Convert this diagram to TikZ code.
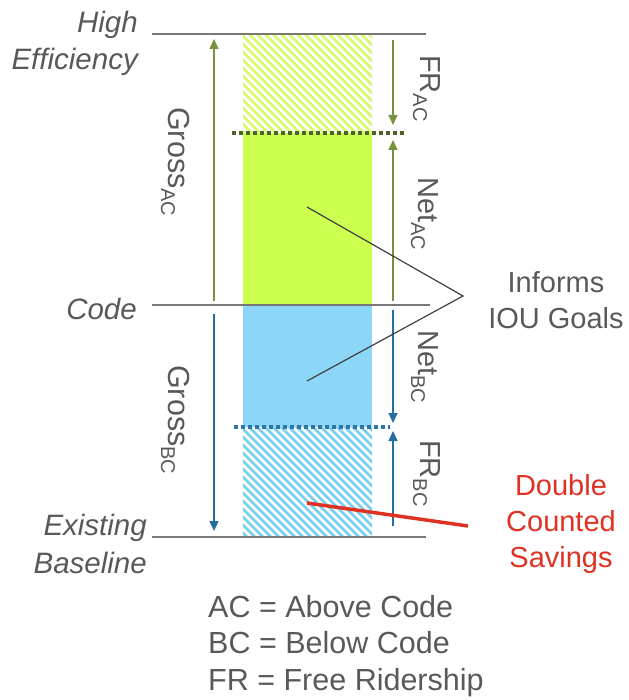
\documentclass[tikz,border=0pt]{standalone}
\usepackage{fontspec}
\setmainfont{Liberation Sans}
\usetikzlibrary{arrows.meta}
\definecolor{txtgray}{RGB}{89,89,89}
\definecolor{linegray}{RGB}{120,120,120}
\definecolor{limefill}{RGB}{204,255,80}
\definecolor{limehatch}{RGB}{214,252,110}
\definecolor{skyfill}{RGB}{140,215,248}
\definecolor{skyhatch}{RGB}{120,206,238}
\definecolor{arrgreen}{RGB}{118,146,60}
\definecolor{arrblue}{RGB}{38,110,160}
\definecolor{dotgreen}{RGB}{79,98,40}
\definecolor{dotblue}{RGB}{46,117,170}
\definecolor{redc}{RGB}{224,50,35}
\definecolor{pointer}{RGB}{64,64,64}
\newcommand\lowsub[1]{\raisebox{-7pt}{\fontsize{20}{20}\selectfont #1}}
\begin{document}
\begin{tikzpicture}[x=1pt,y=-1pt,
  levelline/.style={draw=linegray,line width=1.6pt},
  levellabel/.style={anchor=base east,inner sep=0,text=txtgray,font=\fontsize{29.5}{29.5}\selectfont\itshape},
  rotlabel/.style={rotate=-90,anchor=base west,inner sep=0,text=txtgray,font=\fontsize{29}{29}\selectfont},
  sidetext/.style={align=center,inner sep=0,font=\fontsize{29}{36}\selectfont},
  legendtext/.style={anchor=base west,inner sep=0,text=txtgray,font=\fontsize{30.5}{30.5}\selectfont},
  hatchg/.style={draw=limehatch,line width=2.8pt},
  hatchb/.style={draw=skyhatch,line width=2.8pt},
  garrow/.style={draw=arrgreen,line width=1.3pt,-{Triangle[length=10pt,width=9pt]}},
  barrow/.style={draw=arrblue,line width=1.3pt,-{Triangle[length=10pt,width=9pt]}},
  dotline/.style={line width=3.5pt,dash pattern=on 3.5pt off 3.5pt},
  pointerline/.style={draw=pointer,line width=1.2pt},
  redline/.style={draw=redc,line width=3.5pt}]
\useasboundingbox (0,0) rectangle (628,700);
% filled bars
\fill[limefill] (243,133) rectangle (372,305);
\fill[skyfill] (243,305) rectangle (372,427);
\begin{scope}
  \clip (243,34) rectangle (372,133);
  \foreach \i in {125,133,...,380} \draw[hatchg] (\i,30) -- ++(110,110);
\end{scope}
\begin{scope}
  \clip (243,427) rectangle (372,537);
  \foreach \i in {125,133,...,380} \draw[hatchb] (\i,423) -- ++(120,120);
\end{scope}
% level lines
\coordinate (hl1) at (152,34);  \coordinate (hl2) at (426,34);
\coordinate (cl1) at (152,305); \coordinate (cl2) at (430,305);
\coordinate (bl1) at (152,537); \coordinate (bl2) at (426,537);
\draw[levelline] (hl1) -- (hl2);
\draw[levelline] (cl1) -- (cl2);
\draw[levelline] (bl1) -- (bl2);
% dotted lines
\coordinate (dg1) at (232,133); \coordinate (dg2) at (406,133);
\coordinate (db1) at (234,427); \coordinate (db2) at (390,427);
\draw[dotline,draw=dotgreen] (dg1) -- (dg2);
\draw[dotline,draw=dotblue] (db1) -- (db2);
% arrows
\coordinate (gac1) at (214,301); \coordinate (gac2) at (214,39);
\coordinate (gbc1) at (214,314); \coordinate (gbc2) at (214,531);
\coordinate (frac1) at (393,40); \coordinate (frac2) at (393,125);
\coordinate (nac1) at (393,301); \coordinate (nac2) at (393,140);
\coordinate (nbc1) at (393,310); \coordinate (nbc2) at (393,423);
\coordinate (frbc1) at (393,526); \coordinate (frbc2) at (393,431);
\draw[garrow] (gac1) -- (gac2);
\draw[barrow] (gbc1) -- (gbc2);
\draw[garrow] (frac1) -- (frac2);
\draw[garrow] (nac1) -- (nac2);
\draw[barrow] (nbc1) -- (nbc2);
\draw[barrow] (frbc1) -- (frbc2);
% level labels
\node[levellabel] (high) at (138,33) {High};
\node[levellabel] (eff) at (138,70) {Efficiency};
\node[levellabel] (code) at (137,319) {Code};
\node[levellabel] (exist) at (147,535) {Existing};
\node[levellabel] (base) at (147,573) {Baseline};
% rotated labels
\node[rotlabel,font=\fontsize{30.5}{30.5}\selectfont] (grossac) at (168,107) {Gross\lowsub{AC}};
\node[rotlabel,font=\fontsize{30.5}{30.5}\selectfont] (grossbc) at (168,365) {Gross\lowsub{BC}};
\node[rotlabel] (frac) at (420,55) {FR\lowsub{AC}};
\node[rotlabel] (netac) at (418,177) {Net\lowsub{AC}};
\node[rotlabel] (netbc) at (418,330) {Net\lowsub{BC}};
\node[rotlabel] (frbc) at (420,440) {FR\lowsub{BC}};
% informs
\node[sidetext,text=txtgray] (informs) at (556,300) {Informs\\IOU Goals};
\coordinate (apex) at (463,296);
\coordinate (pa) at (307,207);
\coordinate (pb) at (307,381);
\draw[pointerline] (pa) -- (apex) -- (pb);
% double counted
\node[sidetext,text=redc] (double) at (561,524) {Double\\Counted\\Savings};
\coordinate (ra) at (307,503);
\coordinate (rb) at (468,526);
\draw[redline] (ra) -- (rb);
% legend
\node[legendtext] (lg1) at (208,617) {AC = Above Code};
\node[legendtext] (lg2) at (208,653) {BC = Below Code};
\node[legendtext] (lg3) at (208,690) {FR = Free Ridership};
\end{tikzpicture}
\end{document}
